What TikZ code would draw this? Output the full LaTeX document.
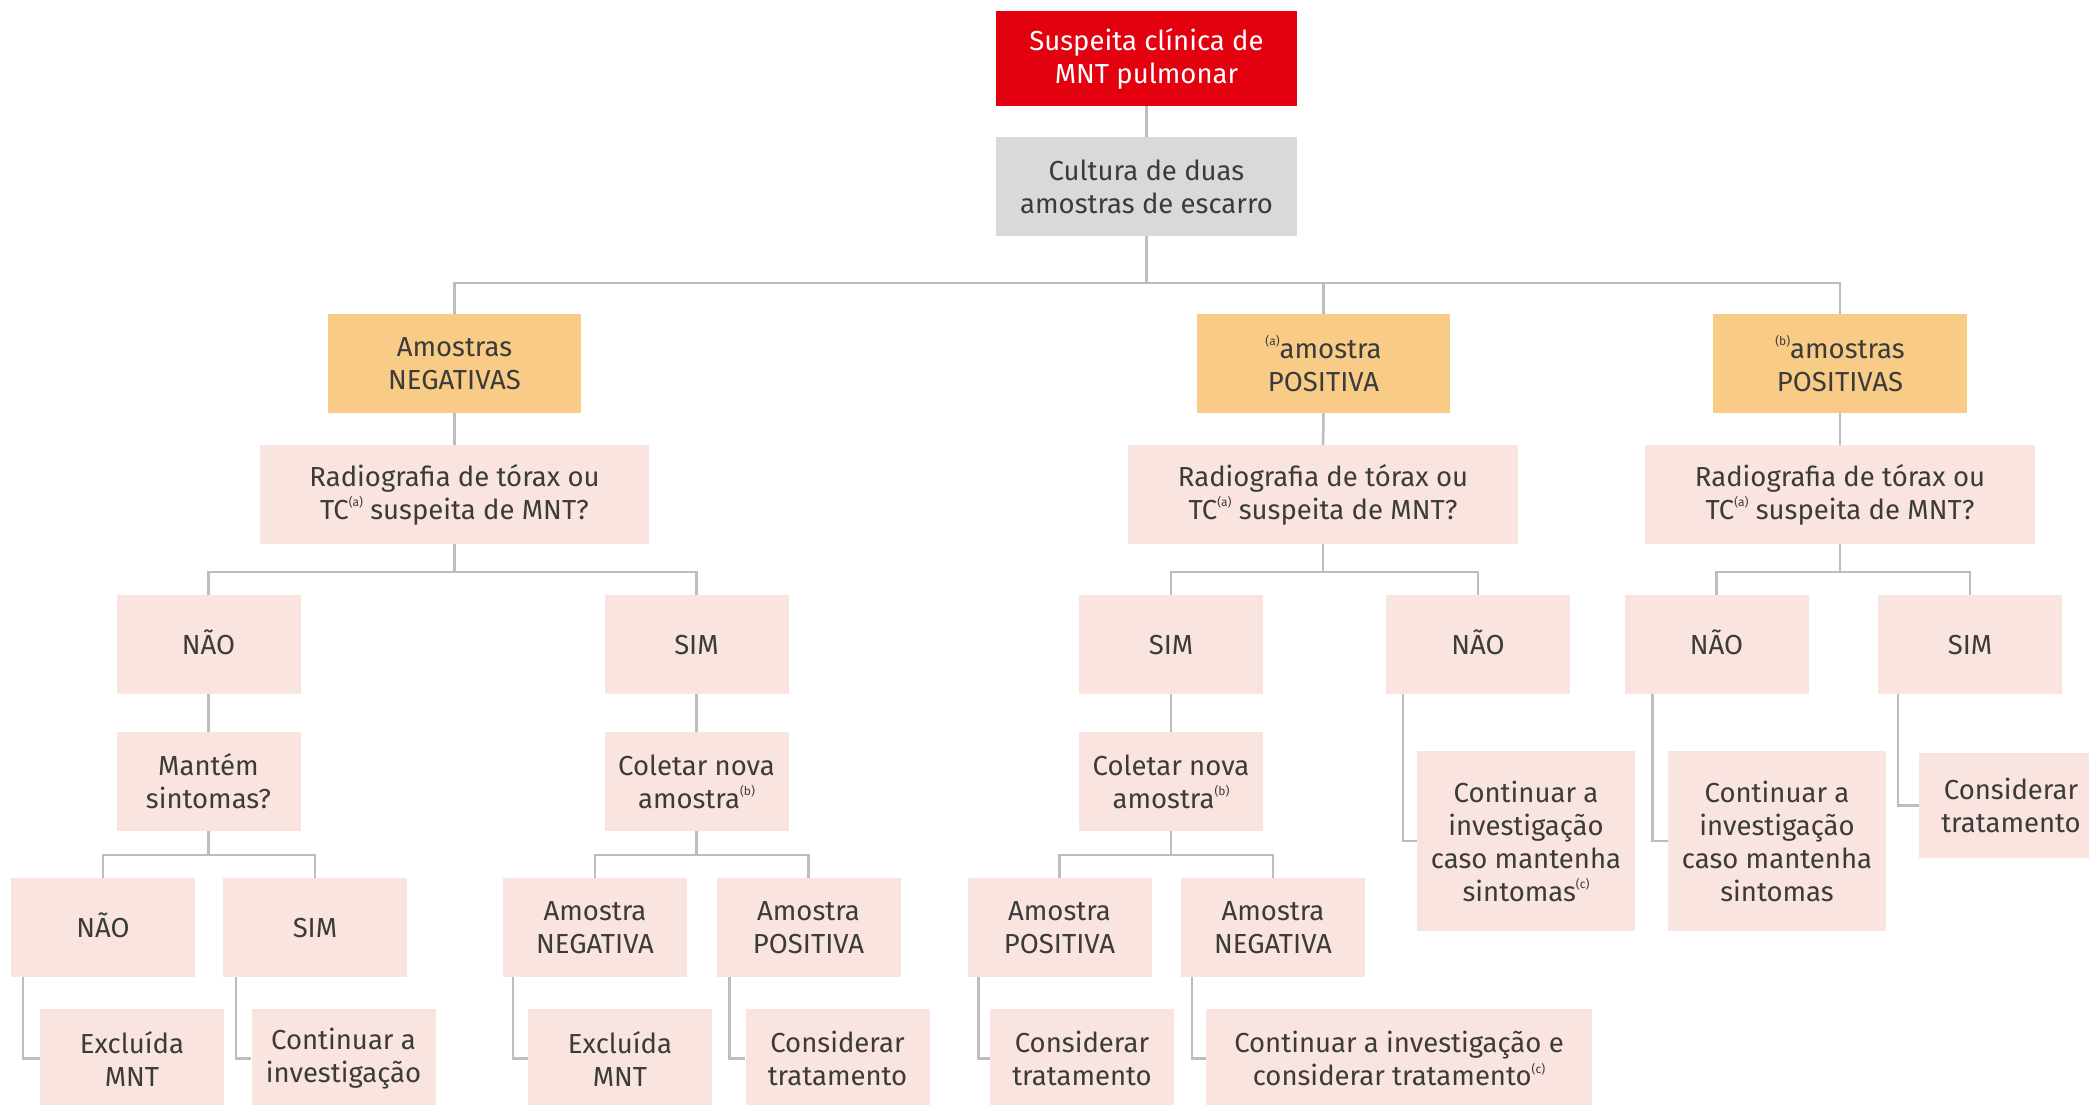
\documentclass[tikz,border=0pt]{standalone}
\usepackage{fontspec}
\setmainfont{Fira Sans}
\definecolor{redbox}{HTML}{E3000F}
\definecolor{greybox}{HTML}{D9D9D9}
\definecolor{orangebox}{HTML}{F8CB86}
\definecolor{pinkbox}{HTML}{F9E4DF}
\definecolor{linkgrey}{HTML}{BDBDBD}
\definecolor{txt}{HTML}{3B3B3B}
\newcommand{\sref}[1]{\raisebox{0.45em}{\fontsize{12}{12}\selectfont(#1)}}
\begin{document}
\begin{tikzpicture}[x=1pt,y=-1pt, every node/.style={font=\fontsize{27.5}{33}\selectfont,text=txt},
  box/.style={fill=pinkbox,inner sep=0pt,minimum width=184pt,minimum height=99pt,align=center},
  single/.style={text height=25pt,text depth=6pt},
  link/.style={draw=linkgrey,line width=2.5pt}]
\path[use as bounding box,fill=white] (0,0) rectangle (2089,1104);
\clip (0,0) rectangle (2089,1104);
% top
\node[box,fill=redbox,text=white,minimum width=301pt,minimum height=95pt] (susp) at (1146.5,58.5) {Suspeita clínica de\\MNT pulmonar};
\node[box,fill=greybox,minimum width=301pt] (cult) at (1146.5,186.5) {Cultura de duas\\amostras de escarro};
\node[box,fill=orangebox,minimum width=253pt] (neg) at (454.5,363.5) {Amostras\\NEGATIVAS};
\node[box,fill=orangebox,minimum width=253pt] (pos1) at (1323.5,363.5) {\sref{a}amostra\\POSITIVA};
\node[box,fill=orangebox,minimum width=254pt] (pos2) at (1840,363.5) {\sref{b}amostras\\POSITIVAS};
\node[box,minimum width=389pt] (rad1) at (454.5,494.5) {Radiografia de tórax ou\\TC\sref{a} suspeita de MNT?};
\node[box,minimum width=390pt] (rad2) at (1323,494.5) {Radiografia de tórax ou\\TC\sref{a} suspeita de MNT?};
\node[box,minimum width=390pt] (rad3) at (1840,494.5) {Radiografia de tórax ou\\TC\sref{a} suspeita de MNT?};
% nivel 4
\node[box,single] (naoA) at (208.5,644.5) {NÃO};
\node[box,single] (simA) at (696.5,644.5) {SIM};
\node[box,single] (simB) at (1171,644.5) {SIM};
\node[box,single] (naoB) at (1478,644.5) {NÃO};
\node[box,single] (naoC) at (1716.5,644.5) {NÃO};
\node[box,single] (simC) at (1970,644.5) {SIM};
% nivel 5
\node[box] (mant) at (208.5,781.5) {Mantém\\sintomas?};
\node[box] (colA) at (696.5,781.5) {Coletar nova\\amostra\sref{b}};
\node[box] (colB) at (1171,781.5) {Coletar nova\\amostra\sref{b}};
\node[box,minimum width=218pt,minimum height=180pt] (contB) at (1526,841) {Continuar a\\investigação\\caso mantenha\\sintomas\sref{c}};
\node[box,minimum width=218pt,minimum height=180pt] (contC) at (1777,841) {Continuar a\\investigação\\caso mantenha\\sintomas};
\node[box,minimum height=105pt] (consC) at (2011,805.5) {Considerar\\tratamento};
% nivel 6
\node[box,single] (naoD) at (103,927.5) {NÃO};
\node[box,single] (simD) at (315,927.5) {SIM};
\node[box] (negA) at (595,927.5) {Amostra\\NEGATIVA};
\node[box] (posA) at (808.5,927.5) {Amostra\\POSITIVA};
\node[box] (posB) at (1059.5,927.5) {Amostra\\POSITIVA};
\node[box] (negB) at (1273,927.5) {Amostra\\NEGATIVA};
% nivel 7
\node[box] (exclA) at (132,1058.5) {Excluída\\MNT};
\node[box] (contA) at (343.5,1058.5) {Continuar a\\investigação};
\node[box] (exclB) at (620,1058.5) {Excluída\\MNT};
\node[box] (consA) at (837.5,1058.5) {Considerar\\tratamento};
\node[box] (consB) at (1082,1058.5) {Considerar\\tratamento};
\node[box,minimum width=386pt] (contE) at (1399,1058.5) {Continuar a investigação e\\considerar tratamento\sref{c}};
% ligacoes
\draw[link] (susp) -- (cult);
\draw[link] (cult.south) -- (cult.south |- 0,283);
\draw[link] (neg.north) |- (pos2.north |- 0,283) -- (pos2.north);
\draw[link] (pos1.north) -- (pos1.north |- 0,283);
\draw[link] (neg) -- (rad1); \draw[link] (pos1) -- (rad2); \draw[link] (pos2) -- (rad3);
\draw[link] (rad1.south) -- (rad1.south |- 0,572); \draw[link] (naoA.north) |- (simA.north |- 0,572) -- (simA.north);
\draw[link] (rad2.south) -- (rad2.south |- 0,572); \draw[link] (simB.north) |- (naoB.north |- 0,572) -- (naoB.north);
\draw[link] (rad3.south) -- (rad3.south |- 0,572); \draw[link] (naoC.north) |- (simC.north |- 0,572) -- (simC.north);
\draw[link] (naoA) -- (mant); \draw[link] (simA) -- (colA); \draw[link] (simB) -- (colB);
\draw[link] (mant.south) -- (mant.south |- 0,855); \draw[link] (naoD.north) |- (simD.north |- 0,855) -- (simD.north);
\draw[link] (colA.south) -- (colA.south |- 0,855); \draw[link] (negA.north) |- (posA.north |- 0,855) -- (posA.north);
\draw[link] (colB.south) -- (colB.south |- 0,855); \draw[link] (posB.north) |- (negB.north |- 0,855) -- (negB.north);
\draw[link] ([xshift=17pt]naoB.south west) |- (contB.west);
\draw[link] ([xshift=28pt]naoC.south west) |- (contC.west);
\draw[link] ([xshift=20pt]simC.south west) |- (consC.west);
\draw[link] ([xshift=12pt]naoD.south west) |- (exclA.west);
\draw[link] ([xshift=13pt]simD.south west) |- (contA.west);
\draw[link] ([xshift=10pt]negA.south west) |- (exclB.west);
\draw[link] ([xshift=13pt]posA.south west) |- (consA.west);
\draw[link] ([xshift=11pt]posB.south west) |- (consB.west);
\draw[link] ([xshift=11pt]negB.south west) |- (contE.west);
\end{tikzpicture}
\end{document}
